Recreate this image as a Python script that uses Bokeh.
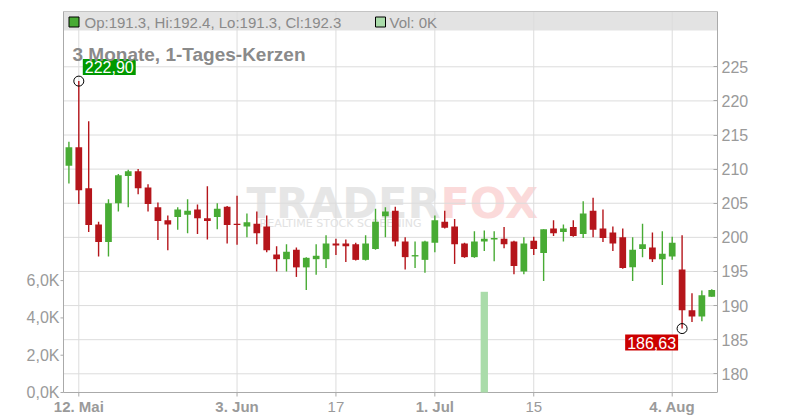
import pandas as pd
from bokeh.plotting import figure
from bokeh.models import Range1d, FixedTicker, Label, BoxAnnotation
from bokeh.embed import file_html
from bokeh.resources import INLINE

# ---------------- data ----------------
dates = [d.strftime("%Y-%m-%d") for d in pd.bdate_range("2025-05-09", "2025-08-08")]

opens = [210.5, 213.2, 207.2, 201.9, 199.3, 205.0, 209.0, 209.7, 207.3, 204.4,
         202.5, 203.0, 203.3, 204.1, 202.8, 203.0, 204.5, 202.0, 201.6, 202.0,
         201.6, 197.5, 196.8, 198.2, 195.6, 196.8, 196.8, 199.1, 199.1, 199.0,
         196.7, 198.3, 203.1, 203.9, 199.4, 197.2, 196.7, 199.2, 202.3, 201.6,
         199.1, 197.1, 199.4, 199.7, 199.8, 199.4, 195.0, 199.5, 197.7, 201.3,
         200.8, 201.5, 200.5, 203.9, 201.3, 200.7, 200.0, 195.6, 198.3, 198.5,
         196.8, 197.2, 195.3, 189.3, 188.4, 191.3]
highs = [214.0, 222.9, 217.0, 202.3, 205.6, 209.3, 209.9, 210.0, 207.8, 205.1,
         203.2, 204.4, 205.6, 204.8, 207.5, 205.0, 204.6, 206.1, 203.5, 203.8,
         203.2, 198.7, 199.0, 198.5, 197.1, 199.0, 200.3, 199.8, 199.7, 199.2,
         200.3, 204.2, 204.4, 204.5, 200.0, 199.4, 199.5, 203.2, 203.9, 202.7,
         199.2, 200.9, 201.0, 200.9, 201.5, 199.5, 200.0, 200.1, 201.2, 202.5,
         201.9, 202.5, 205.3, 205.8, 204.1, 201.6, 201.3, 200.0, 202.0, 200.7,
         200.9, 200.1, 200.3, 191.8, 192.2, 192.4]
lows = [207.9, 204.9, 200.8, 197.2, 197.2, 203.8, 204.4, 206.3, 203.8, 199.6,
        198.1, 201.1, 200.6, 200.5, 199.7, 201.2, 199.1, 198.9, 200.0, 199.0,
        197.8, 195.0, 195.0, 194.2, 192.3, 194.5, 195.5, 197.4, 196.4, 196.6,
        196.6, 198.2, 200.0, 198.7, 195.3, 195.5, 194.8, 197.8, 201.3, 196.1,
        197.0, 197.0, 198.0, 196.5, 198.4, 194.6, 194.6, 197.4, 193.6, 200.2,
        199.4, 200.1, 199.9, 200.0, 199.3, 198.0, 195.4, 193.6, 197.1, 196.4,
        193.0, 196.7, 186.63, 187.6, 187.7, 191.3]
closes = [213.2, 206.9, 201.8, 199.3, 205.0, 209.1, 209.7, 207.2, 204.9, 202.4,
          201.9, 204.1, 203.9, 202.8, 202.4, 204.2, 201.8, 201.8, 202.2, 200.6,
          198.1, 196.8, 197.9, 195.6, 197.0, 197.3, 199.1, 198.8, 198.7, 196.7,
          199.1, 202.3, 203.8, 199.4, 197.1, 197.4, 199.4, 202.5, 201.4, 199.0,
          197.1, 199.4, 199.8, 199.9, 199.0, 195.8, 199.1, 198.3, 201.2, 200.6,
          201.3, 200.2, 203.5, 201.1, 199.9, 199.1, 195.5, 198.2, 199.0, 196.8,
          197.6, 199.2, 189.3, 188.4, 191.5, 192.3]
volumes = [0, 0, 0, 0, 0, 0, 0, 0, 0, 0,
           0, 0, 0, 0, 0, 0, 0, 0, 0, 0,
           0, 0, 0, 0, 0, 0, 0, 0, 0, 0,
           0, 0, 0, 0, 0, 0, 0, 0, 0, 0,
           0, 0, 5400, 0, 0, 0, 0, 0, 0, 0,
           0, 0, 0, 0, 0, 0, 0, 0, 0, 0,
           0, 0, 0, 0, 0, 0]

tick_dates = ["2025-05-12", "2025-06-03", "2025-06-17", "2025-07-01", "2025-07-15", "2025-08-04"]
tick_labels = ["12. Mai", "3. Jun", "17", "1. Jul", "15", "4. Aug"]
tick_bold = [True, True, False, True, False, True]
price_ticks = [180, 185, 190, 195, 200, 205, 210, 215, 220, 225]
vol_ticks = [0, 2000, 4000, 6000]
vol_tick_labels = ["0,0K", "2,0K", "4,0K", "6,0K"]
title_text = "3 Monate, 1-Tages-Kerzen"

# ---------------- styles / layout ----------------
GREEN = "#48ab34"
RED = "#b5151b"
VOLC = "#aadcaa"
AXC = "#9a9a9a"
LINEC = "#aaaaaa"
GRIDC = "#dcdcdc"
FONT = "Liberation Sans"

W, H = 800, 420
FL, FR, FT, FB = 0, 717, 10, 420           # frame edges in page pixels
PL = 63                                     # left edge of the plotting area
XS, XE = -6.917, 65.58
YS, YE = 173.155, 233.25
VS, VE = -1501.0, 20483.0


def fx(px):
    return XS + (px - FL) * (XE - XS) / (FR - FL)


def fy(py):
    return YE - (py - FT) * (YE - YS) / (FB - FT)


def fv(py):
    return VE - (py - FT) * (VE - VS) / (FB - FT)


AX_BOTTOM = 392   # page y of the time axis line
AX_TOP = 11       # page y of the top border
HDR_BOTTOM = 30

x = list(range(len(dates)))
is_up = [c >= o for o, c in zip(opens, closes)]
colors = [GREEN if u else RED for u in is_up]
tops = [max(o, c) for o, c in zip(opens, closes)]
bots = [min(o, c) for o, c in zip(opens, closes)]

p = figure(width=W, height=H, output_backend="svg", toolbar_location=None,
           x_range=Range1d(XS, XE), y_range=Range1d(YS, YE),
           y_axis_location="right", background_fill_color="white",
           border_fill_color="white")
p.min_border_left = FL
p.min_border_right = W - FR
p.min_border_top = FT
p.min_border_bottom = 0
p.outline_line_color = None
p.extra_y_ranges = {"vol": Range1d(VS, VE)}
p.xaxis.visible = False
p.xgrid.visible = False
p.ygrid.visible = False

# header band + top border
p.add_layout(BoxAnnotation(left=fx(PL), bottom=fy(HDR_BOTTOM), top=fy(AX_TOP),
                           fill_color="#e3e3e3", fill_alpha=1.0, line_color=None,
                           level="image"))

# watermark
p.add_layout(Label(x=fx(440), y=fy(202), text="TRADER", text_align="right",
                   text_baseline="alphabetic", text_font="DejaVu Sans",
                   text_font_style="bold", text_font_size="43px",
                   text_color="#e6e6e6", level="image"))
p.add_layout(Label(x=fx(440), y=fy(202), text="FOX", text_align="left",
                   text_baseline="alphabetic", text_font="DejaVu Sans",
                   text_font_style="bold", text_font_size="43px",
                   text_color="#fbdada", level="image"))
p.add_layout(Label(x=fx(340), y=fy(223), text="REALTIME STOCK SCREENING",
                   text_align="center", text_baseline="alphabetic",
                   text_font="DejaVu Sans", text_font_size="11px",
                   text_color="#e2e2e2", level="image"))

# grid lines
tick_pos = [dates.index(d) for d in tick_dates]
n_t = len(tick_pos)
n_p = len(price_ticks)
p.segment(x0=tick_pos, y0=[fy(AX_BOTTOM)] * n_t, x1=tick_pos, y1=[fy(AX_TOP)] * n_t,
          line_color=GRIDC, line_width=1, level="underlay")
p.segment(x0=[fx(PL)] * n_p, y0=price_ticks, x1=[XE] * n_p, y1=price_ticks,
          line_color=GRIDC, line_width=1, level="underlay")

# frame lines: top border, time axis, volume axis
p.segment(x0=[fx(PL)], y0=[fy(AX_TOP)], x1=[XE], y1=[fy(AX_TOP)],
          line_color="#c4c4c4", line_width=1)
p.segment(x0=[fx(PL)], y0=[fy(AX_BOTTOM)], x1=[XE], y1=[fy(AX_BOTTOM)],
          line_color=LINEC, line_width=1)
p.segment(x0=[fx(PL)], y0=[fy(AX_BOTTOM)], x1=[fx(PL)], y1=[fy(AX_TOP)],
          line_color=LINEC, line_width=1)

# time axis ticks + labels
p.segment(x0=tick_pos, y0=[fy(AX_BOTTOM)] * n_t, x1=tick_pos,
          y1=[fy(AX_BOTTOM + 4)] * n_t, line_color=LINEC, line_width=1)
for t, lab, b in zip(tick_pos, tick_labels, tick_bold):
    p.add_layout(Label(x=t, y=fy(406), text=lab, text_align="center",
                       text_baseline="middle", text_font=FONT,
                       text_font_style="bold" if b else "normal",
                       text_font_size="15px", text_color=AXC))

# volume axis ticks + labels (on the volume scale)
n_v = len(vol_ticks)
p.segment(x0=[fx(PL - 3)] * n_v, y0=vol_ticks, x1=[fx(PL)] * n_v, y1=vol_ticks,
          y_range_name="vol", line_color=LINEC, line_width=1)
for v, lab in zip(vol_ticks, vol_tick_labels):
    p.add_layout(Label(x=fx(PL - 4), y=v, y_range_name="vol", text=lab,
                       text_align="right", text_baseline="middle", text_font=FONT,
                       text_font_size="16px", text_color=AXC))

# volume
p.vbar(x=x, width=0.74, top=volumes, bottom=0, y_range_name="vol",
       fill_color=VOLC, line_color=None)

# candles
p.segment(x0=x, y0=highs, x1=x, y1=lows, line_color=colors, line_width=1.4)
p.vbar(x=x, width=0.68, top=tops, bottom=bots, fill_color=colors, line_color=None)

# extremes
imax = highs.index(max(highs))
imin = lows.index(min(lows))
p.scatter(x=[imax, imin], y=[highs[imax], lows[imin]], marker="circle", size=10,
          fill_color=None, line_color="black", line_width=1)
p.add_layout(Label(x=imax, y=highs[imax], text=f"{highs[imax]:.2f}".replace(".", ","),
                   text_align="left", text_baseline="bottom", x_offset=4, y_offset=6,
                   text_color="white", text_font=FONT, text_font_size="16px",
                   background_fill_color="#009900", padding=2))
p.add_layout(Label(x=imin, y=lows[imin], text=f"{lows[imin]:.2f}".replace(".", ","),
                   text_align="right", text_baseline="top", x_offset=-4, y_offset=-6,
                   text_color="white", text_font=FONT, text_font_size="16px",
                   background_fill_color="#cc0000", padding=2))

# header legend
p.scatter(x=[fx(73.5), fx(380)], y=[fy(21.5), fy(21.5)], marker="square", size=10,
          fill_color=[GREEN, VOLC], line_color="black", line_width=1)
hdr = f"Op:{opens[-1]:.1f}, Hi:{highs[-1]:.1f}, Lo:{lows[-1]:.1f}, Cl:{closes[-1]:.1f}"
p.add_layout(Label(x=fx(84), y=fy(21.5), text=hdr, text_align="left",
                   text_baseline="middle", text_font=FONT, text_font_size="15px",
                   text_color="#8a8a8a"))
p.add_layout(Label(x=fx(389), y=fy(21.5), text=f"Vol: {volumes[-1] / 1000:.0f}K",
                   text_align="left", text_baseline="middle", text_font=FONT,
                   text_font_size="15px", text_color="#8a8a8a"))
p.add_layout(Label(x=fx(72), y=fy(54), text=title_text, text_align="left",
                   text_baseline="alphabetic", text_font=FONT, text_font_style="bold",
                   text_font_size="19px", text_color="#8a8a8a"))

# right price axis (real axis)
ya = p.yaxis[0]
ya.ticker = FixedTicker(ticks=price_ticks)
ya.bounds = (fy(AX_BOTTOM), fy(AX_TOP))
ya.major_tick_in = 4
ya.major_tick_out = 0
ya.minor_tick_line_color = None
ya.axis_line_color = LINEC
ya.major_tick_line_color = LINEC
ya.major_label_text_color = AXC
ya.major_label_text_font = FONT
ya.major_label_text_font_size = "16px"
ya.major_label_standoff = 4

open("out.html", "w").write(file_html(p, INLINE))
